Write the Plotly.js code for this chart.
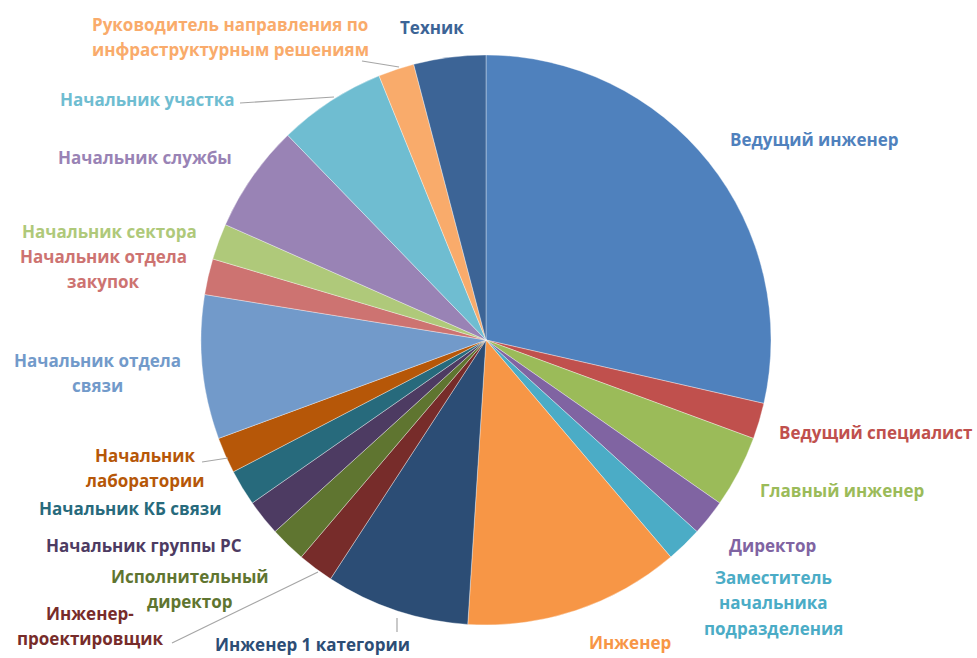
<!DOCTYPE html>
<html>
<head>
<meta charset="utf-8">
<script src="https://cdn.plot.ly/plotly-3.0.1.min.js"></script>
<style>html,body{margin:0;padding:0;background:#fff;}#chart{width:977px;height:658px;}</style>
</head>
<body>
<div id="chart"></div>
<script>
const labels = [
  "Ведущий инженер", "Ведущий специалист", "Главный инженер", "Директор",
  "Заместитель начальника подразделения", "Инженер", "Инженер 1 категории",
  "Инженер-проектировщик", "Исполнительный директор", "Начальник группы РС",
  "Начальник КБ связи", "Начальник лаборатории", "Начальник отдела связи",
  "Начальник отдела закупок", "Начальник сектора", "Начальник службы",
  "Начальник участка", "Руководитель направления по инфраструктурным решениям", "Техник"
];
const values = [14, 1, 2, 1, 1, 6, 4, 1, 1, 1, 1, 1, 4, 1, 1, 3, 3, 1, 2];
const colors = [
  "#4F81BD", "#C0504D", "#9BBB59", "#8064A2", "#4BACC6", "#F79646", "#2C4D75",
  "#772C2A", "#5F7530", "#4D3B62", "#276A7C", "#B65708", "#729ACA", "#CD7371",
  "#AFC97A", "#9983B5", "#6FBDD1", "#F9AB6B", "#3C6496"
];
// label text lines, one entry per slice (same order as labels)
const labelLines = [
  ["Ведущий инженер"], ["Ведущий специалист"], ["Главный инженер"], ["Директор"],
  ["Заместитель", "начальника", "подразделения"], ["Инженер"], ["Инженер 1 категории"],
  ["Инженер-", "проектировщик"], ["Исполнительный", "директор"], ["Начальник группы РС"],
  ["Начальник КБ связи"], ["Начальник", "лаборатории"], ["Начальник отдела", "связи"],
  ["Начальник отдела", "закупок"], ["Начальник сектора"], ["Начальник службы"],
  ["Начальник участка"], ["Руководитель направления по", "инфраструктурным решениям"], ["Техник"]
];

// label anchor positions (pixels: center x, first-line y)
const labelPos = [
  [814, 140], [876, 432], [842, 490], [772, 545],
  [773, 577], [630, 642], [312, 644],
  [90, 613], [190, 576], [144, 545],
  [130, 508], [145, 455], [97, 360],
  [103, 256], [109, 232], [145, 158],
  [147, 100], [230, 24], [432, 27]
];
const lineGap = 25.5;

const W = 977, H = 658;
const cx = 486, cy = 340, R = 285;

const annotations = [];
labelLines.forEach((lines, i) => {
  lines.forEach((t, j) => {
    annotations.push({
      text: t, showarrow: false, xref: 'paper', yref: 'paper',
      x: labelPos[i][0] / W, y: 1 - (labelPos[i][1] + j * lineGap) / H,
      xanchor: 'center', yanchor: 'middle',
      font: {family: 'Open Sans, sans-serif', size: 17, weight: 700, color: colors[i]}
    });
  });
});

const leaders = [
  [[362, 61], [399, 67]],
  [[240, 103], [334, 97]],
  [[202, 462], [228, 458]],
  [[172, 643], [318, 572]],
  [[397, 618], [397, 632]]
];
const shapes = leaders.map(l => ({
  type: 'line', xref: 'paper', yref: 'paper',
  x0: l[0][0] / W, y0: 1 - l[0][1] / H, x1: l[1][0] / W, y1: 1 - l[1][1] / H,
  line: {color: '#A6A6A6', width: 1.2}
}));

const trace = {
  type: 'pie', labels: labels, values: values, sort: false, direction: 'clockwise', rotation: 0,
  marker: {colors: colors, line: {color: 'rgba(255,255,255,0.45)', width: 0.8}},
  textinfo: 'none', hoverinfo: 'label+value+percent',
  domain: {x: [(cx - R) / W, (cx + R) / W], y: [1 - (cy + R) / H, 1 - (cy - R) / H]}
};

Plotly.newPlot('chart', [trace], {
  width: W, height: H, margin: {l: 0, r: 0, t: 0, b: 0},
  showlegend: false, paper_bgcolor: '#ffffff',
  annotations: annotations, shapes: shapes
}, {displayModeBar: false, staticPlot: true});
</script>
</body>
</html>
